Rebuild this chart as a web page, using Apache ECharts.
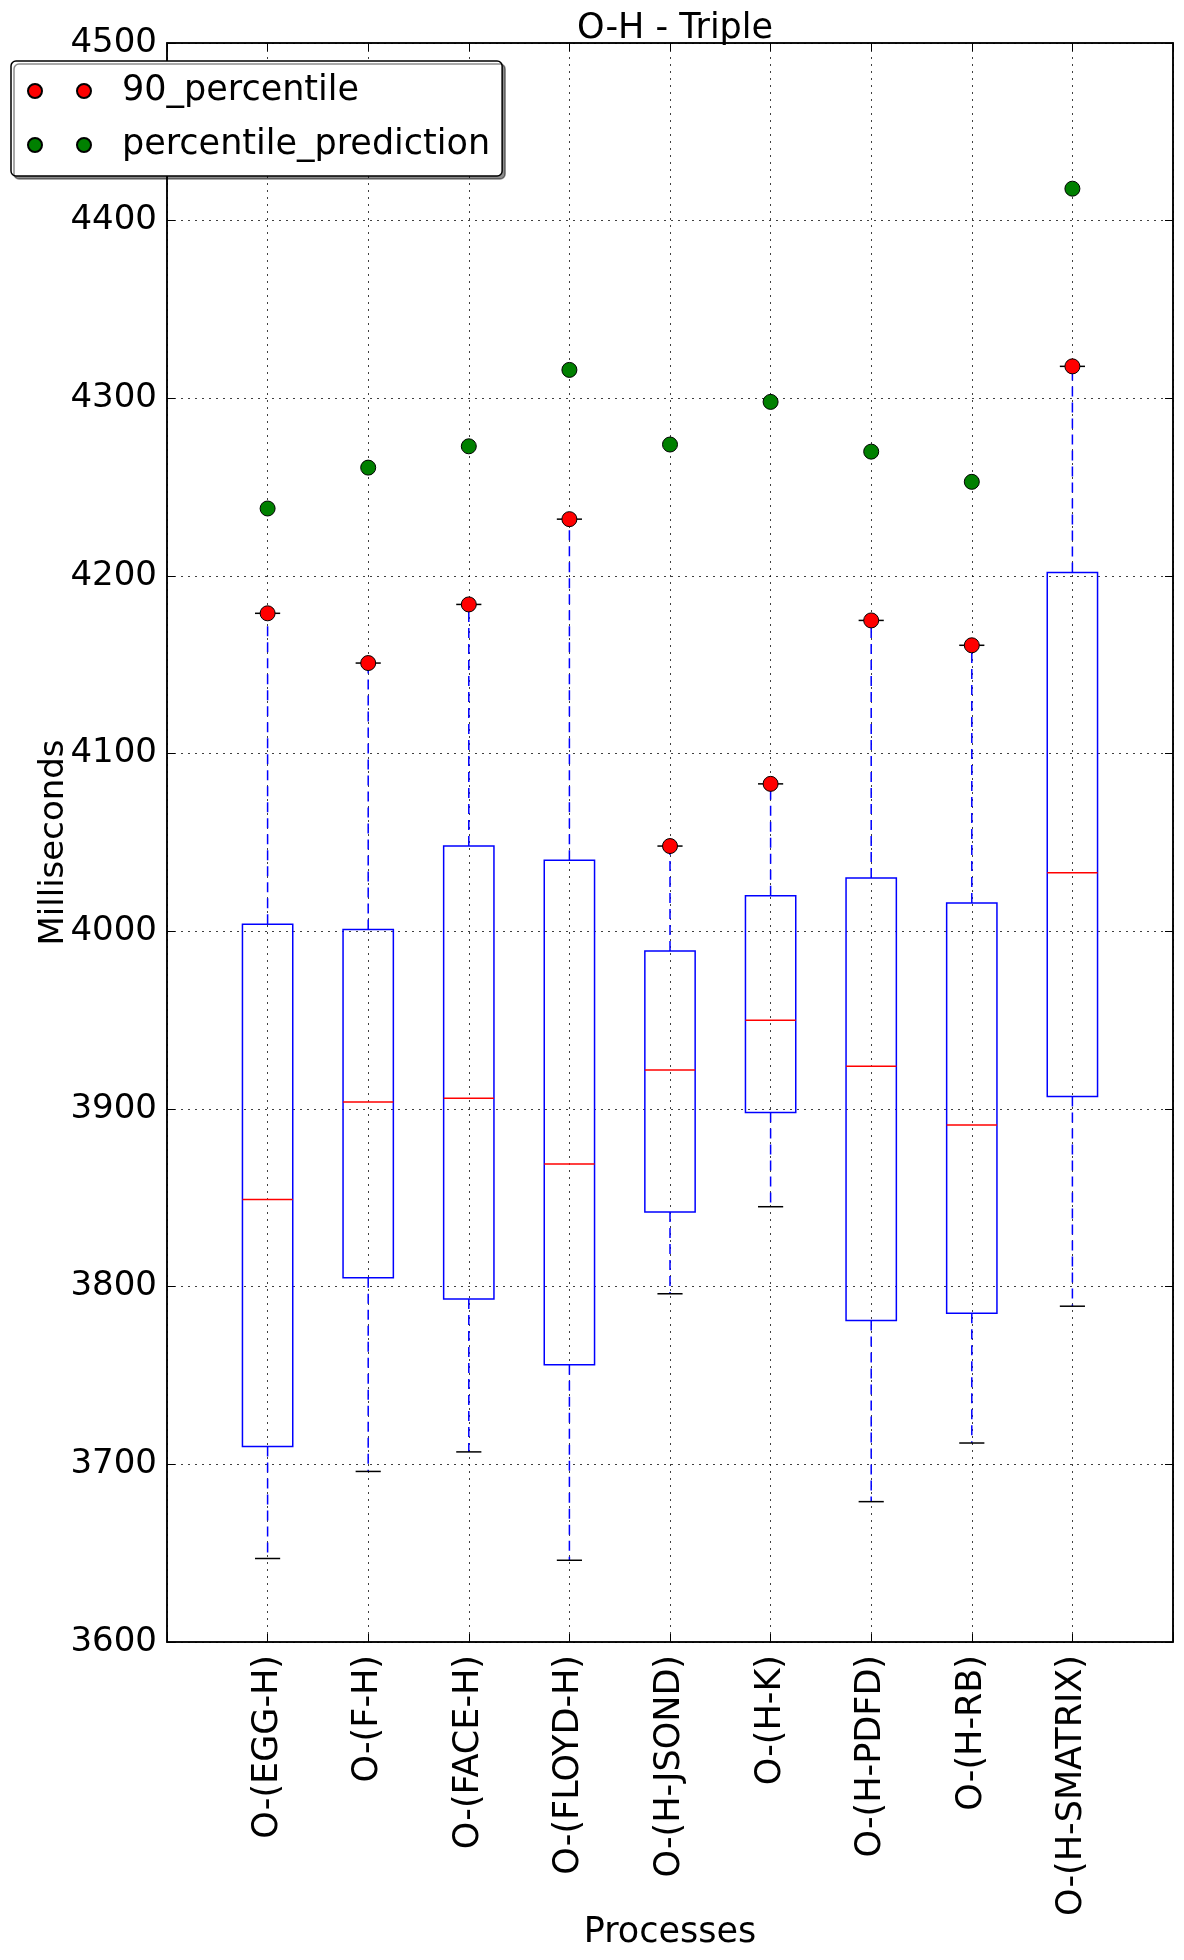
<!DOCTYPE html>
<html>
<head>
<meta charset="utf-8">
<script src="https://cdn.jsdelivr.net/npm/echarts@6/dist/echarts.min.js"></script>
<style>
html,body{margin:0;padding:0;background:#ffffff;}
#chart{width:1184px;height:1960px;}
</style>
</head>
<body>
<div id="chart"></div>
<script>
// ---- data ----
const categories = ['O-(EGG-H)','O-(F-H)','O-(FACE-H)','O-(FLOYD-H)','O-(H-JSOND)','O-(H-K)','O-(H-PDFD)','O-(H-RB)','O-(H-SMATRIX)'];
const whiskerLow  = [3647, 3696, 3707, 3646, 3796, 3845, 3679, 3712, 3789];
const q1          = [3710, 3805, 3793, 3756, 3842, 3898, 3781, 3785, 3907];
const median      = [3849, 3904, 3906, 3869, 3922, 3950, 3924, 3891, 4033];
const q3          = [4004, 4001, 4048, 4040, 3989, 4020, 4030, 4016, 4202];
const whiskerHigh = [4179, 4151, 4184, 4232, 4048, 4083, 4175, 4161, 4318];
const percentile90 = [4179, 4151, 4184, 4232, 4048, 4083, 4175, 4161, 4318];
const percentilePrediction = [4238, 4261, 4273, 4316, 4274, 4298, 4270, 4253, 4418];
const yMin = 3600, yMax = 4500, yStep = 100;

// ---- build chart ----
const FONT = 'DejaVu Sans';
const xCats = [''].concat(categories, ['']);
const boxData = categories.map((c, i) => [i + 1, whiskerLow[i], q1[i], median[i], q3[i], whiskerHigh[i]]);
const p90Data = categories.map((c, i) => [i + 1, percentile90[i]]);
const predData = categories.map((c, i) => [i + 1, percentilePrediction[i]]);
const twoDots = 'path://M0,7A7,7,0,1,1,14,7A7,7,0,1,1,0,7ZM49,7A7,7,0,1,1,63,7A7,7,0,1,1,49,7Z';

const chart = echarts.init(document.getElementById('chart'));
const gridLine = {show: true, lineStyle: {color: '#000', type: [2, 5], width: 1, opacity: 0.75}};

chart.setOption({
  animation: false,
  backgroundColor: '#ffffff',
  title: {
    text: 'O-H - Triple', left: 670, textAlign: 'center', top: 6,
    textStyle: {fontFamily: FONT, fontSize: 35, fontWeight: 'normal', color: '#000'}
  },
  legend: {
    orient: 'vertical', left: 11, top: 61,
    padding: [10, 12, 11, 16], itemGap: 14,
    itemWidth: 63, itemHeight: 15,
    backgroundColor: '#fff', borderColor: '#000', borderWidth: 1.5, borderRadius: 5,
    shadowColor: 'rgba(0,0,0,0.45)', shadowOffsetX: 3, shadowOffsetY: 3, shadowBlur: 0,
    selectedMode: false,
    textStyle: {fontFamily: FONT, fontSize: 35, color: '#000', lineHeight: 40, padding: [0, 0, 0, 26]},
    data: [{name: '90_percentile', icon: twoDots}, {name: 'percentile_prediction', icon: twoDots}]
  },
  grid: {left: 167, right: 11, top: 43, bottom: 318, outerBoundsMode: 'none', containLabel: false,
    show: true, borderColor: '#000', borderWidth: 1.5, backgroundColor: '#fff'},
  xAxis: [{
    type: 'category', data: xCats, boundaryGap: false,
    name: 'Processes', nameLocation: 'middle', nameGap: 273, nameMoveOverlap: false,
    nameTextStyle: {fontFamily: FONT, fontSize: 35, color: '#000'},
    axisLine: {show: true, lineStyle: {color: '#000', width: 1.5}},
    axisTick: {show: true, inside: true, length: 8, interval: 0, alignWithLabel: true, lineStyle: {color: '#000'}},
    axisLabel: {show: true, interval: 0, rotate: 90, margin: 13, fontFamily: FONT, fontSize: 35, color: '#000'},
    splitLine: Object.assign({interval: 0}, gridLine)
  }, {
    type: 'category', data: xCats, boundaryGap: false, position: 'top',
    axisLine: {show: true, lineStyle: {color: '#000', width: 1.5}},
    axisTick: {show: true, inside: true, length: 8, interval: 0, lineStyle: {color: '#000'}},
    axisLabel: {show: false}, splitLine: {show: false}
  }],
  yAxis: [{
    type: 'value', min: yMin, max: yMax, interval: yStep,
    name: 'Milliseconds', nameLocation: 'middle', nameGap: 96, nameMoveOverlap: false,
    nameTextStyle: {fontFamily: FONT, fontSize: 34, color: '#000'},
    axisLine: {show: true, lineStyle: {color: '#000', width: 1.5}},
    axisTick: {show: true, inside: true, length: 8, lineStyle: {color: '#000'}},
    axisLabel: {margin: 10, fontFamily: FONT, fontSize: 34, color: '#000', formatter: v => String(v)},
    splitLine: gridLine
  }, {
    type: 'value', min: yMin, max: yMax, interval: yStep, position: 'right',
    axisLine: {show: true, lineStyle: {color: '#000', width: 1.5}},
    axisTick: {show: true, inside: true, length: 8, lineStyle: {color: '#000'}},
    axisLabel: {show: false}, splitLine: {show: false}
  }],
  series: [{
    type: 'custom', name: 'boxes', z: 2,
    data: boxData,
    encode: {x: 0, y: [1, 2, 3, 4, 5]},
    renderItem: function (params, api) {
      const x = api.value(0);
      const lo = api.coord([x, api.value(1)]);
      const b1 = api.coord([x, api.value(2)]);
      const md = api.coord([x, api.value(3)]);
      const b3 = api.coord([x, api.value(4)]);
      const hi = api.coord([x, api.value(5)]);
      const band = api.size([1, 0])[0];
      const bw = band * 0.5, cw = band * 0.25;
      const cx = lo[0];
      const blue = '#0000ff';
      return {type: 'group', children: [
        {type: 'line', shape: {x1: cx, y1: b3[1], x2: cx, y2: hi[1]}, style: {stroke: blue, lineWidth: 1.5, lineDash: [10, 6]}},
        {type: 'line', shape: {x1: cx, y1: b1[1], x2: cx, y2: lo[1]}, style: {stroke: blue, lineWidth: 1.5, lineDash: [10, 6]}},
        {type: 'line', shape: {x1: cx - cw / 2, y1: hi[1], x2: cx + cw / 2, y2: hi[1]}, style: {stroke: '#000', lineWidth: 1.5}},
        {type: 'line', shape: {x1: cx - cw / 2, y1: lo[1], x2: cx + cw / 2, y2: lo[1]}, style: {stroke: '#000', lineWidth: 1.5}},
        {type: 'rect', shape: {x: cx - bw / 2, y: b3[1], width: bw, height: b1[1] - b3[1]}, style: {fill: 'none', stroke: blue, lineWidth: 1.5}},
        {type: 'line', shape: {x1: cx - bw / 2, y1: md[1], x2: cx + bw / 2, y2: md[1]}, style: {stroke: '#ff0000', lineWidth: 1.5}}
      ]};
    }
  }, {
    type: 'scatter', name: '90_percentile', z: 3,
    data: p90Data, symbol: 'circle', symbolSize: 15,
    itemStyle: {color: '#ff0000', borderColor: '#000', borderWidth: 1, opacity: 1}
  }, {
    type: 'scatter', name: 'percentile_prediction', z: 3,
    data: predData, symbol: 'circle', symbolSize: 15,
    itemStyle: {color: '#008000', borderColor: '#000', borderWidth: 1, opacity: 1}
  }]
});
</script>
</body>
</html>
